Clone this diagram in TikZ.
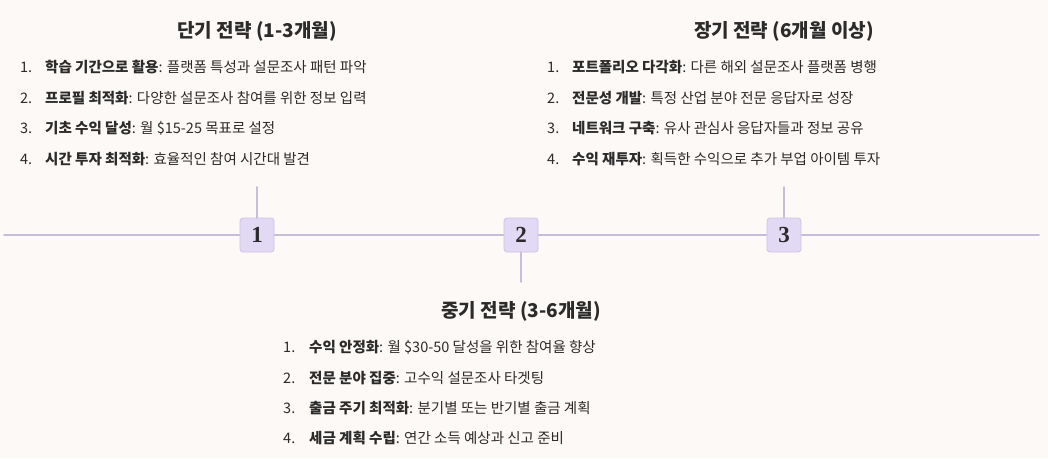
\documentclass[tikz,border=0pt]{standalone}
\usepackage{fontspec}
\setmainfont{Noto Sans CJK KR}
\newfontfamily\numfont{Liberation Serif}
\definecolor{bgcol}{HTML}{FDF9F6}
\definecolor{linecol}{HTML}{C6BDDC}
\definecolor{boxfill}{HTML}{E2D9F4}
\definecolor{boxline}{HTML}{CFC4E6}
\definecolor{inkcol}{HTML}{2B2B2B}
\tikzset{
  tl/.style={draw=linecol, line width=1.6pt},
  stepbox/.style={draw=boxline, fill=boxfill, rounded corners=3pt, minimum size=34pt, inner sep=0pt, line width=0.8pt, font=\numfont\bfseries\fontsize{23}{23}\selectfont, text=inkcol},
  heading/.style={font=\bfseries\fontsize{19}{22}\selectfont, text=inkcol},
  itemnum/.style={anchor=west, inner sep=0pt, font=\fontsize{14.5}{17}\selectfont, text=inkcol},
  itemtxt/.style={anchor=west, inner sep=0pt, font=\fontsize{14.5}{17}\selectfont, text=inkcol}
}
\begin{document}
\begin{tikzpicture}[x=1pt, y=-1pt, line join=round, line cap=round]
		\useasboundingbox[fill=bgcol] (0,0) rectangle (1048,458);
		\def\ya{235} % timeline
		% timeline
		\coordinate (lineL) at (4,\ya);
		\coordinate (lineR) at (1039,\ya);
		\draw[tl] (lineL)--(lineR);
		\foreach \i/\x in {1/257,2/521,3/784}
		\node[stepbox] (s\i) at (\x,\ya) {\i};
		\coordinate (t1) at (257,187);
		\coordinate (t2) at (521,282);
		\coordinate (t3) at (784,187);
		\draw[tl] (t1)--(s1.north);
		\draw[tl] (s2.south)--(t2);
		\draw[tl] (t3)--(s3.north);
		% headings
		\node[heading] (h1) at (257,31) {단기 전략 (1-3개월)};
		\node[heading] (h2) at (521,311) {중기 전략 (3-6개월)};
		\node[heading] (h3) at (784,31) {장기 전략 (6개월 이상)};
		% short term
		\foreach \n/\y/\b/\t in {1/67/{학습 기간으로 활용}/{플랫폼 특성과 설문조사 패턴 파악},
			2/98/{프로필 최적화}/{다양한 설문조사 참여를 위한 정보 입력},
			3/128/{기초 수익 달성}/{월 \$15-25 목표로 설정},
			4/159/{시간 투자 최적화}/{효율적인 참여 시간대 발견}}{
			\node[itemnum] (a\n) at (20,\y) {\n.};
			\node[itemtxt] (at\n) at (45,\y) {\textbf{\b}: \t};
		}
		% mid term
		\foreach \n/\y/\b/\t in {1/347/{수익 안정화}/{월 \$30-50 달성을 위한 참여율 향상},
			2/378/{전문 분야 집중}/{고수익 설문조사 타겟팅},
			3/408/{출금 주기 최적화}/{분기별 또는 반기별 출금 계획},
			4/438/{세금 계획 수립}/{연간 소득 예상과 신고 준비}}{
			\node[itemnum] (b\n) at (283,\y) {\n.};
			\node[itemtxt] (bt\n) at (309,\y) {\textbf{\b}: \t};
		}
		% long term
		\foreach \n/\y/\b/\t in {1/67/{포트폴리오 다각화}/{다른 해외 설문조사 플랫폼 병행},
			2/98/{전문성 개발}/{특정 산업 분야 전문 응답자로 성장},
			3/128/{네트워크 구축}/{유사 관심사 응답자들과 정보 공유},
			4/159/{수익 재투자}/{획득한 수익으로 추가 부업 아이템 투자}}{
			\node[itemnum] (c\n) at (547,\y) {\n.};
			\node[itemtxt] (ct\n) at (572,\y) {\textbf{\b}: \t};
		}
\end{tikzpicture}
\end{document}
